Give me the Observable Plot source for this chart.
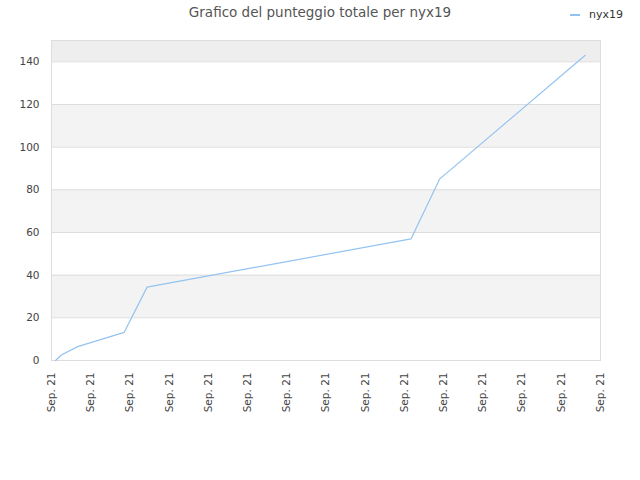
<!DOCTYPE html>
<html>
<head>
<meta charset="utf-8">
<script src="https://cdn.jsdelivr.net/npm/d3@7"></script>
<script src="https://cdn.jsdelivr.net/npm/@observablehq/plot@0.6"></script>
<style>
  html, body { margin: 0; padding: 0; background: #fff; }
  #wrap { position: relative; width: 640px; height: 480px; font-family: "DejaVu Sans", sans-serif; }
  #title { position: absolute; top: 4px; left: 0; width: 640px; text-align: center; font-size: 13.5px; color: #555; }
  #legend { position: absolute; top: 8px; left: 570px; font-size: 11px; color: #333; display: flex; align-items: center; }
  #legend .sw { width: 10px; height: 0; border-top: 2px solid #93c3f0; margin-right: 9px; }
  #chart { position: absolute; top: 0; left: 0; }
</style>
</head>
<body>
<div id="wrap">
  <div id="chart"></div>
  <div id="title">Grafico del punteggio totale per nyx19</div>
  <div id="legend"><span class="sw"></span><span id="legname"></span></div>
</div>
<script>
const seriesName = "nyx19";
const dates = [
  "2021-09-01T05:00Z", "2021-09-01T12:00Z", "2021-09-02T08:00Z", "2021-09-04T17:00Z",
  "2021-09-05T21:00Z", "2021-09-19T08:00Z", "2021-09-20T19:00Z", "2021-09-28T05:00Z"
];
const scores = [0, 2.6, 6.5, 13.2, 34.4, 57, 85, 143];
const yTicks = [0, 20, 40, 60, 80, 100, 120, 140];
const yMax = 150;
const xStart = "2021-09-01T00:00Z";
const xEnd = "2021-09-29T00:00Z";
const xTickLabel = "Sep. 21";

document.getElementById("legname").textContent = seriesName;

const data = dates.map((d, i) => ({date: new Date(d), score: scores[i]}));
const xTicks = d3.utcDay.every(2).range(new Date(xStart), new Date(new Date(xEnd).getTime() + 1));

const bands = yTicks.slice(0, -1).map((t, i) => ({y1: t, y2: yTicks[i + 1], odd: i % 2 === 1})).filter(b => b.odd);
const topBand = [{y1: yTicks[yTicks.length - 1], y2: yMax}];

const chart = Plot.plot({
  width: 640,
  height: 480,
  marginLeft: 51,
  marginRight: 40,
  marginTop: 40,
  marginBottom: 120,
  style: {fontFamily: "DejaVu Sans, sans-serif", fontSize: "10.5px", color: "#444", background: "transparent"},
  x: {type: "utc", domain: [new Date(xStart), new Date(xEnd)], label: null},
  y: {domain: [0, yMax], label: null},
  marks: [
    Plot.rectY(bands, {x1: new Date(xStart), x2: new Date(xEnd), y1: "y1", y2: "y2", fill: "#f3f3f3"}),
    Plot.rectY(topBand, {x1: new Date(xStart), x2: new Date(xEnd), y1: "y1", y2: "y2", fill: "#eeeeee"}),
    Plot.ruleY(yTicks, {stroke: "#dddddd", strokeWidth: 1}),
    Plot.frame({stroke: "#dddddd"}),
    Plot.line(data, {x: "date", y: "score", stroke: "#93c3f0", strokeWidth: 1.2}),
    Plot.axisX({ticks: xTicks, tickFormat: () => xTickLabel, tickRotate: -90, tickSize: 0, tickPadding: 12, label: null}),
    Plot.axisY({ticks: yTicks, tickSize: 0, tickPadding: 12, label: null})
  ]
});
document.getElementById("chart").appendChild(chart);
</script>
</body>
</html>
